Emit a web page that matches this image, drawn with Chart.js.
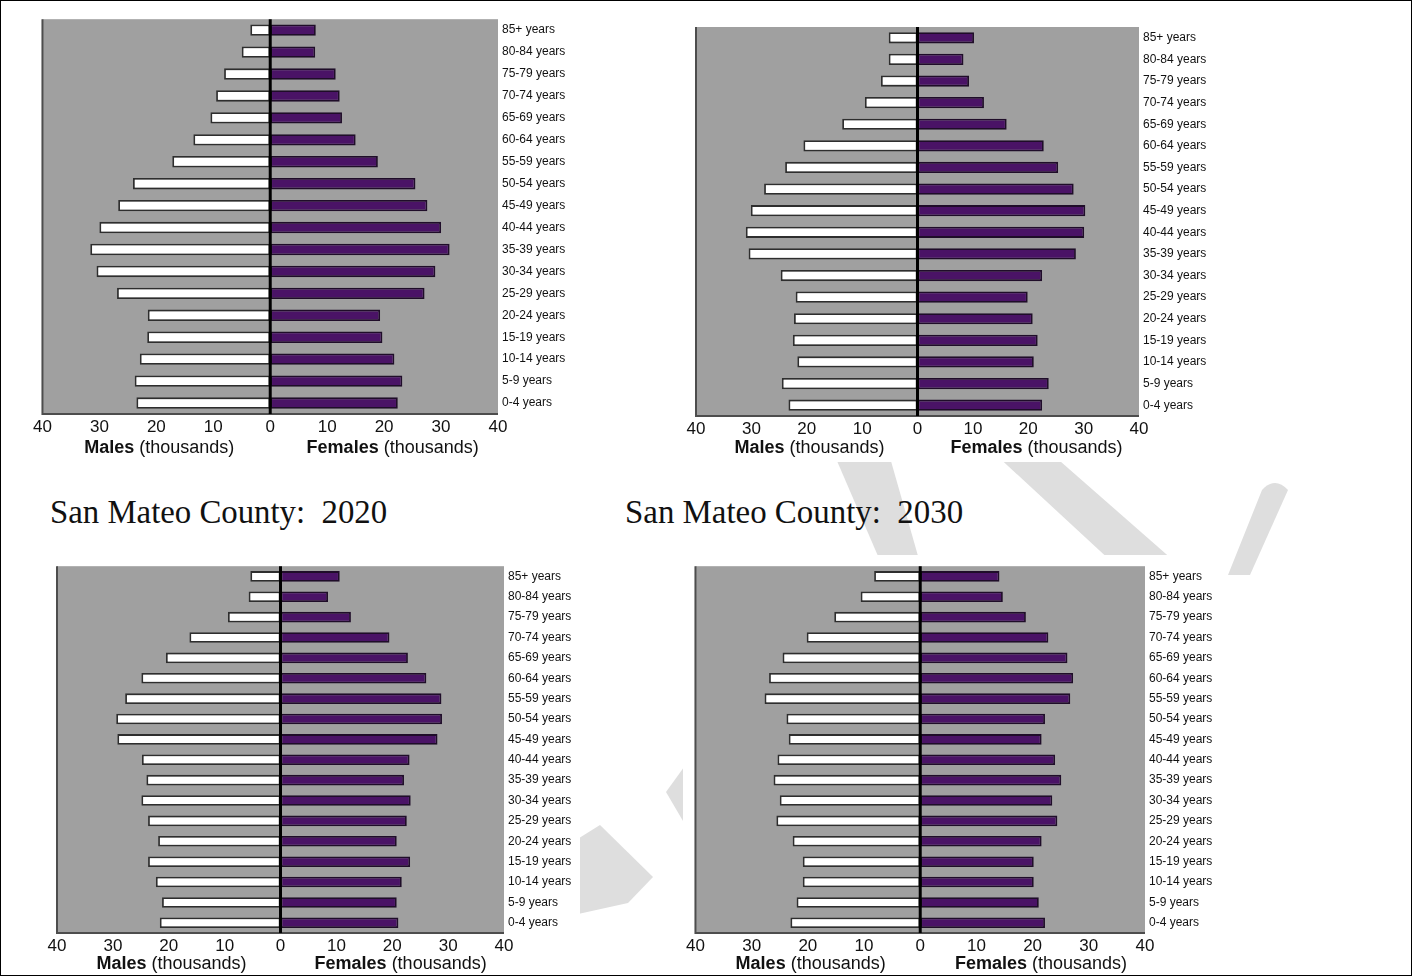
<!DOCTYPE html>
<html>
<head>
<meta charset="utf-8">
<script src="https://cdn.jsdelivr.net/npm/chart.js@4.4.1/dist/chart.umd.min.js"></script>
<style>
  html, body { margin: 0; padding: 0; background: #fff; }
  #page { position: relative; width: 1413px; height: 977px; overflow: hidden; background: #fff; }
  #frame { position: absolute; left: 0; top: 0; width: 1410px; height: 974px; border: 1.5px solid #000; pointer-events: none; z-index: 5; }
  #watermark { position: absolute; left: 0; top: 0; z-index: 0; }
  .panel { position: absolute; background: #fff; z-index: 1; }
  .panel canvas { display: block; }
  .title { position: absolute; z-index: 2; font-family: "Liberation Serif", serif; font-size: 33px; line-height: 1; color: #111; white-space: pre; transform-origin: left top; }
</style>
</head>
<body>
<div id="page">
  <svg id="watermark" width="1413" height="977">
    <g fill="#dedede">
      <polygon points="828,440 885,440 922,570 884,570"/>
      <polygon points="980,440 1036,440 1190,575 1126,575"/>
      <path d="M1262,490 Q1275,476 1288,490 L1250,575 L1228,575 Z"/>
      <polygon points="600,825 653,877 628,903 560,918 560,850"/>
      <polygon points="666,792 700,745 700,850"/>
    </g>
  </svg>

  <div class="panel" style="left:30px;top:8px;width:550px;height:454px"><canvas id="chartTL"></canvas></div>
  <div class="panel" style="left:683px;top:15px;width:540px;height:447px"><canvas id="chartTR"></canvas></div>
  <div class="panel" style="left:40px;top:555px;width:540px;height:422px"><canvas id="chartBL"></canvas></div>
  <div class="panel" style="left:683px;top:555px;width:540px;height:422px"><canvas id="chartBR"></canvas></div>

  <div class="title" id="title2020" style="left:50px;top:496px">San Mateo County:  2020</div>
  <div class="title" id="title2030" style="left:625px;top:496px">San Mateo County:  2030</div>
  <div id="frame"></div>
</div>

<script>
// Age groups, youngest first (axis is reversed so 85+ sits on top)
const ageGroups = ['0-4 years', '5-9 years', '10-14 years', '15-19 years', '20-24 years',
  '25-29 years', '30-34 years', '35-39 years', '40-44 years', '45-49 years', '50-54 years',
  '55-59 years', '60-64 years', '65-69 years', '70-74 years', '75-79 years', '80-84 years', '85+ years'];

const xTicks = [-40, -30, -20, -10, 0, 10, 20, 30, 40];

// Population in thousands
const maleTopLeft   = [23.5, 23.8, 22.9, 21.6, 21.5, 26.9, 30.5, 31.6, 30.0, 26.7, 24.1, 17.2, 13.5, 10.5, 9.5, 8.1, 5.0, 3.5];
const femaleTopLeft = [22.4, 23.2, 21.8, 19.7, 19.3, 27.1, 29.0, 31.5, 30.0, 27.6, 25.5, 18.9, 15.0, 12.6, 12.2, 11.5, 7.9, 8.0];

const maleTopRight   = [23.3, 24.5, 21.7, 22.5, 22.3, 22.0, 24.7, 30.5, 31.0, 30.1, 27.7, 23.9, 20.6, 13.6, 9.5, 6.6, 5.2, 5.2];
const femaleTopRight = [22.5, 23.7, 21.0, 21.7, 20.8, 19.9, 22.5, 28.6, 30.1, 30.3, 28.2, 25.4, 22.8, 16.1, 12.0, 9.3, 8.3, 10.2];

const male2020   = [21.6, 21.2, 22.3, 23.7, 21.9, 23.7, 24.9, 24.0, 24.8, 29.2, 29.4, 27.8, 24.9, 20.5, 16.3, 9.4, 5.7, 5.4];
const female2020 = [21.1, 20.8, 21.7, 23.2, 20.8, 22.6, 23.3, 22.1, 23.1, 28.1, 28.9, 28.8, 26.1, 22.8, 19.5, 12.6, 8.5, 10.6];

const male2030   = [23.1, 22.0, 20.9, 20.9, 22.7, 25.6, 25.0, 26.1, 25.4, 23.4, 23.8, 27.7, 26.9, 24.5, 20.2, 15.3, 10.6, 8.2];
const female2030 = [22.2, 21.1, 20.2, 20.2, 21.6, 24.4, 23.5, 25.1, 24.0, 21.6, 22.2, 26.7, 27.2, 26.2, 22.8, 18.8, 14.7, 14.1];

const SANS = '"Liberation Sans", Arial, sans-serif';

// Gray plot area, left/bottom frame, zero line and the two axis captions
const pyramidFrame = {
  id: 'pyramidFrame',
  beforeDatasetsDraw(chart) {
    const { ctx, chartArea: { left, top, right, bottom } } = chart;
    ctx.save();
    ctx.fillStyle = '#a0a0a0';
    ctx.fillRect(left, top, right - left, bottom - top);
    ctx.restore();
  },
  afterDatasetsDraw(chart) {
    const { ctx, chartArea: { left, top, right, bottom }, scales: { x } } = chart;
    ctx.save();
    ctx.strokeStyle = '#4d4d4d';
    ctx.lineWidth = 2;
    ctx.beginPath();
    ctx.moveTo(left, top);
    ctx.lineTo(left, bottom);
    ctx.lineTo(right, bottom);
    ctx.stroke();
    const zx = x.getPixelForValue(0);
    ctx.strokeStyle = '#000';
    ctx.lineWidth = 3;
    ctx.beginPath();
    ctx.moveTo(zx, top);
    ctx.lineTo(zx, bottom);
    ctx.stroke();

    // captions: bold word + normal unit
    const y = bottom + chart.options.plugins.pyramidFrame.captionOffset;
    const drawCaption = (bold, rest, cx) => {
      ctx.font = 'bold 18px ' + SANS;
      const w1 = ctx.measureText(bold).width;
      ctx.font = '18px ' + SANS;
      const w2 = ctx.measureText(rest).width;
      let sx = cx - (w1 + w2) / 2;
      ctx.fillStyle = '#111';
      ctx.textBaseline = 'middle';
      ctx.textAlign = 'left';
      ctx.font = 'bold 18px ' + SANS;
      ctx.fillText(bold, sx, y);
      ctx.font = '18px ' + SANS;
      ctx.fillText(rest, sx + w1, y);
    };
    drawCaption('Males', ' (thousands)', x.getPixelForValue(-19.5));
    drawCaption('Females', ' (thousands)', x.getPixelForValue(21.5));
    ctx.restore();
  }
};

function makePyramid(id, males, females, yWidth, xHeight, padLeft, padTop, captionOffset) {
  const ctx = document.getElementById(id).getContext('2d');
  return new Chart(ctx, {
    type: 'bar',
    data: {
      labels: ageGroups,
      datasets: [
        {
          label: 'Males',
          data: males.map(v => -v),
          backgroundColor: '#ffffff',
          borderColor: '#2e2e2e',
          borderWidth: 1.8,
          borderSkipped: false
        },
        {
          label: 'Females',
          data: females,
          backgroundColor: '#4a1366',
          borderColor: '#1f0d29',
          borderWidth: 1.8,
          borderSkipped: false
        }
      ]
    },
    options: {
      indexAxis: 'y',
      responsive: true,
      maintainAspectRatio: false,
      animation: false,
      layout: { padding: { left: padLeft, top: padTop, right: 0, bottom: 0 } },
      datasets: { bar: { categoryPercentage: 1, barPercentage: 0.52 } },
      scales: {
        x: {
          type: 'linear',
          stacked: true,
          min: -40,
          max: 40,
          afterBuildTicks: scale => { scale.ticks = xTicks.map(v => ({ value: v })); },
          afterFit: scale => { scale.height = xHeight; },
          grid: { display: false, drawTicks: false },
          border: { display: false },
          ticks: {
            autoSkip: false,
            maxRotation: 0,
            padding: 3,
            color: '#111',
            font: { family: SANS, size: 17 },
            callback: v => Math.abs(v)
          }
        },
        y: {
          stacked: true,
          reverse: true,
          position: 'right',
          afterFit: scale => { scale.width = yWidth; },
          grid: { display: false, drawTicks: false },
          border: { display: false },
          ticks: {
            autoSkip: false,
            padding: 4,
            color: '#111',
            font: { family: SANS, size: 12 }
          }
        }
      },
      plugins: {
        legend: { display: false },
        tooltip: { enabled: false },
        pyramidFrame: { captionOffset: captionOffset }
      }
    },
    plugins: [pyramidFrame]
  });
}

makePyramid('chartTL', maleTopLeft, femaleTopLeft, 82, 48, 12, 10, 34);
makePyramid('chartTR', maleTopRight, femaleTopRight, 84, 46, 13, 12, 32);
makePyramid('chartBL', male2020, female2020, 76, 44, 17, 6, 31);
makePyramid('chartBR', male2030, female2030, 78, 44, 10, 6, 31);

// squeeze the Cambria-like titles to the width they take in the reference
[['title2020', 337], ['title2030', 338]].forEach(([id, target]) => {
  const el = document.getElementById(id);
  const w = el.getBoundingClientRect().width;
  el.style.transform = 'scaleX(' + (target / w).toFixed(3) + ')';
});
</script>
</body>
</html>
